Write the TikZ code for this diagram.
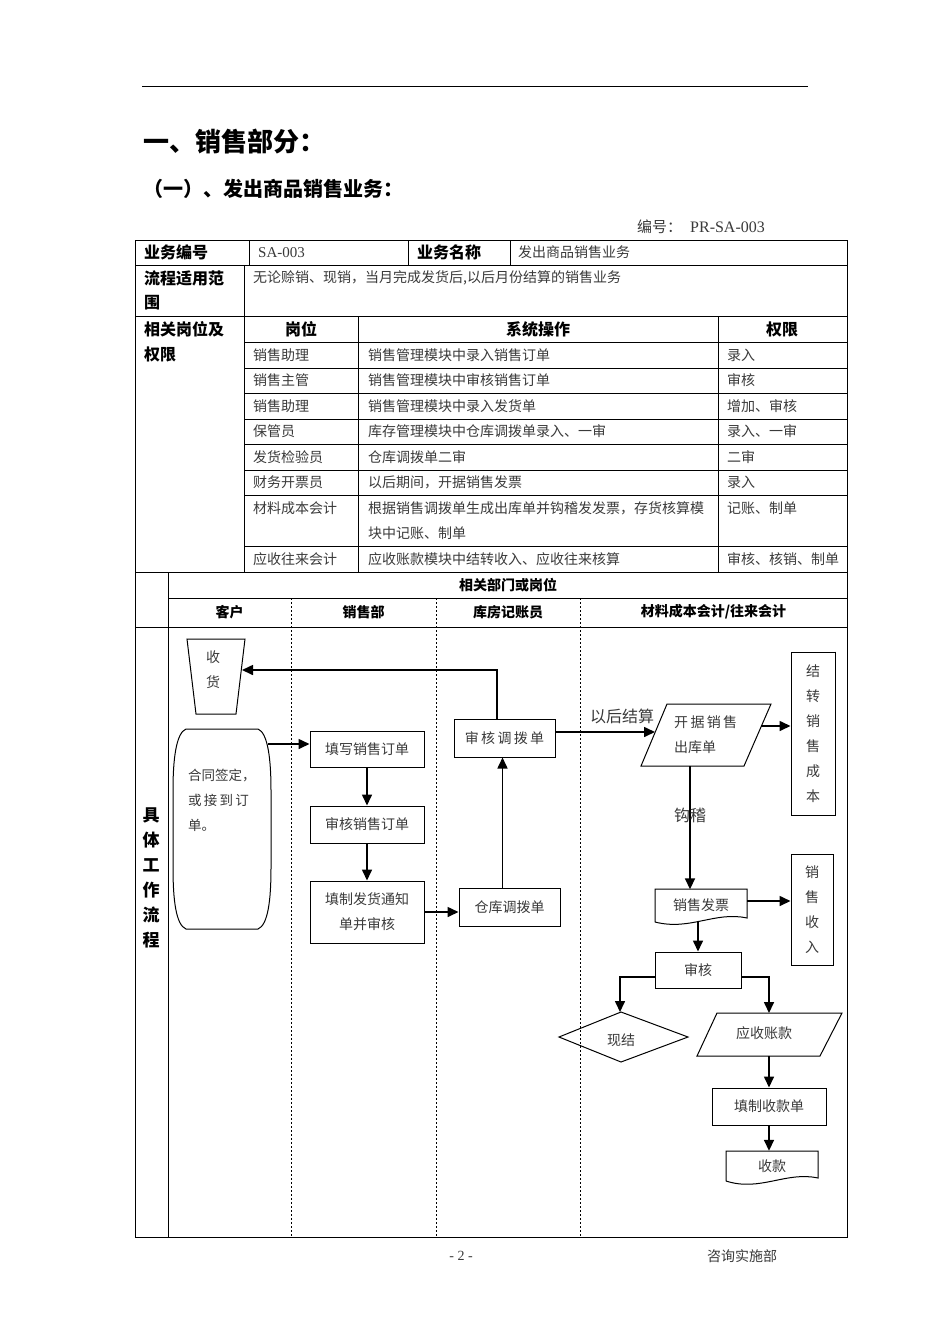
\documentclass[tikz,border=0pt]{standalone}
\usepackage{fontspec}
\setmainfont{Liberation Serif}
\newfontfamily\cjk{Noto Sans CJK SC}
\usetikzlibrary{arrows.meta,shapes.geometric}
\definecolor{txt}{HTML}{3A3A3A}
\begin{document}
\begin{tikzpicture}[x=1pt,y=-1pt,
  tl/.style={line width=1pt},
  cell/.style={anchor=west,inner sep=0pt,text=txt,font=\cjk\fontsize{14}{25}\selectfont,align=left},
  hd/.style={anchor=west,inner sep=0pt,font=\cjk\bfseries\fontsize{16}{25}\selectfont},
  hdc/.style={inner sep=0pt,font=\cjk\bfseries\fontsize{16}{25}\selectfont},
  lh/.style={inner sep=0pt,font=\cjk\bfseries\fontsize{14}{16}\selectfont},
  fbox/.style={draw,line width=1pt,inner sep=0pt,text=txt,font=\cjk\fontsize{14}{25}\selectfont,align=center},
  ftext/.style={inner sep=0pt,text=txt,font=\cjk\fontsize{14}{25}\selectfont,align=center},
  conn/.style={line width=1.6pt,-{Triangle[length=11pt,width=10pt]}},
  lane/.style={line width=0.8pt,dash pattern=on 2pt off 2pt}
]
\useasboundingbox[fill=white] (0,0) rectangle (950,1344);

% header
\draw[line width=0.8pt] (142,86) -- (808,86);
\node[anchor=west,inner sep=0pt,font=\cjk\bfseries\fontsize{26}{30}\selectfont] (title) at (143,142) {一、销售部分：};
\node[anchor=west,inner sep=0pt,font=\cjk\bfseries\fontsize{20}{24}\selectfont] (subtitle) at (143,189) {（一）、发出商品销售业务：};
\node[anchor=west,inner sep=0pt,font=\fontsize{16}{18}\selectfont,text=txt] (code) at (637,227) {{\cjk\fontsize{15}{18}\selectfont 编号：}\ \ PR-SA-003};

% table frame
\draw[tl] (135,240) rectangle (847,1237);
\draw[tl] (135,265) -- (847,265);
\draw[tl] (135,316) -- (847,316);
\foreach \yy in {342,368,393,419,444,470,495,546} \draw[tl] (244,\yy) -- (847,\yy);
\draw[tl] (135,572) -- (847,572);
\draw[tl] (168,598) -- (847,598);
\draw[tl] (135,627) -- (847,627);
\draw[tl] (249,240) -- (249,265);
\draw[tl] (408,240) -- (408,265);
\draw[tl] (510,240) -- (510,265);
\draw[tl] (244,265) -- (244,572);
\draw[tl] (358,316) -- (358,572);
\draw[tl] (718,316) -- (718,572);
\draw[tl] (168,572) -- (168,1237);
\foreach \xx in {291,436,580} \draw[lane] (\xx,598) -- (\xx,1237);

% table text
\node[hd] (ywbh) at (144,252.5) {业务编号};
\node[anchor=west,inner sep=0pt,font=\fontsize{15}{18}\selectfont,text=txt] (sa) at (258,253) {SA-003};
\node[hd] (ywmc) at (417,252.5) {业务名称};
\node[cell] (ywmcv) at (518,252.5) {发出商品销售业务};
\node[hd] (lc1) at (144,278) {流程适用范};
\node[hd] (lc2) at (144,303) {围};
\node[cell] (lcv) at (253,278) {无论赊销、现销，当月完成发货后,以后月份结算的销售业务};
\node[hd] (xg1) at (144,329) {相关岗位及};
\node[hd] (xg2) at (144,354) {权限};
\node[hdc] (gw) at (301,329) {岗位};
\node[hdc] (xtcz) at (538,329) {系统操作};
\node[hdc] (qx) at (782,329) {权限};
\foreach \yy/\a/\b/\c [count=\i] in {
  355/销售助理/销售管理模块中录入销售订单/录入,
  380.5/销售主管/销售管理模块中审核销售订单/审核,
  406/销售助理/销售管理模块中录入发货单/增加、审核,
  431.5/保管员/库存管理模块中仓库调拨单录入、一审/录入、一审,
  457/发货检验员/仓库调拨单二审/二审,
  482.5/财务开票员/以后期间，开据销售发票/录入,
  508/材料成本会计/根据销售调拨单生成出库单并钩稽发发票，存货核算模/记账、制单,
  559/应收往来会计/应收账款模块中结转收入、应收往来核算/审核、核销、制单}{
  \node[cell] (ra\i) at (253,\yy) {\a};
  \node[cell] (rb\i) at (368,\yy) {\b};
  \node[cell] (rc\i) at (727,\yy) {\c};
}
\node[cell] (rb7b) at (368,533) {块中记账、制单};

% lane headers
\node[lh] (xgbm) at (508,585) {相关部门或岗位};
\node[lh] (kh) at (229.5,612) {客户};
\node[lh] (xsb) at (363.5,612) {销售部};
\node[lh] (kf) at (508,612) {库房记账员};
\node[lh] (cl) at (713.5,612) {材料成本会计/往来会计};
\node[hdc,font=\cjk\bfseries\fontsize{17}{25}\selectfont,align=center] (jtgz) at (151,877.5) {具\\体\\工\\作\\流\\程};

% ---- flow ----
% 收货 trapezoid
\draw[line width=1pt] (187,639) -- (245,639) -- (236,714) -- (196,714) -- cycle;
\node[ftext] (sh0) at (213,670) {收\\货};
\coordinate (shR) at (242,670);

% 合同签定 barrel
\draw[line width=1pt] (186,729) -- (258,729)
  .. controls (268,733) and (271,760) .. (271,790) -- (271,868)
  .. controls (271,900) and (268,925) .. (258,929) -- (186,929)
  .. controls (176,925) and (173,900) .. (173,868) -- (173,790)
  .. controls (173,760) and (176,733) .. (186,729) -- cycle;
\node[ftext,align=left,anchor=west,font=\cjk\fontsize{13.5}{25}\selectfont] (ht) at (188,800) {合同签定，\\或\,接\,到\,订\\单。};
\coordinate (htR) at (268,744);

\node[fbox,minimum width=114pt,minimum height=36pt] (txdd) at (367,749) {填写销售订单};
\node[fbox,minimum width=114pt,minimum height=37pt] (shdd) at (367,824.5) {审核销售订单};
\node[fbox,minimum width=114pt,minimum height=62pt] (tzfh) at (367,912) {填制发货通知\\单并审核};
\node[fbox,minimum width=101pt,minimum height=38pt] (ckdb) at (509.5,907) {仓库调拨单};
\node[fbox,minimum width=101pt,minimum height=38pt] (shdb) at (504.5,738) {审\,核\,调\,拨\,单};

\draw[conn] (htR) -- (htR -| txdd.west);
\draw[conn] (txdd.south) -- (shdd.north);
\draw[conn] (shdd.south) -- (tzfh.north);
\draw[conn] (tzfh.east) -- (tzfh.east -| ckdb.west);
\draw[conn] ([xshift=-7pt]ckdb.north) -- ([xshift=-2pt]shdb.south);
\draw[conn] ([xshift=-7.5pt]shdb.north) |- (shR);

% 开据销售出库单 parallelogram
\draw[line width=1pt] (667,704) -- (771,704) -- (744,766) -- (641,766) -- cycle;
\node[ftext,align=left,anchor=west] (kpt) at (674,735) {开\,据\,销\,售\\出库单};
\coordinate (kpL) at (655,732);
\coordinate (kpR) at (761,726);
\coordinate (kpB) at (690,766);
\draw[conn] ([yshift=6pt]shdb.east) -- (kpL);
\node[inner sep=0pt,text=txt,font=\cjk\fontsize{16}{18}\selectfont] (yhjs) at (622,716) {以后结算};

\node[fbox,minimum width=44pt,minimum height=163pt] (jzcb) at (813,733.5) {结\\转\\销\\售\\成\\本};
\draw[line width=1.8pt] (jzcb.north east) -- (jzcb.south east) -- (jzcb.south west);
\draw[conn] (kpR) -- (kpR -| jzcb.west);

% 销售发票 document
\node[ftext,minimum width=92pt,minimum height=31pt] (fp) at (701,905) {销售发票};
\draw[line width=1pt] (655,922) -- (655,889) -- (747,889) -- (747,918) .. controls (715,911) and (690,931) .. (655,922);
\draw[conn] (kpB) -- (kpB |- fp.north);
\node[inner sep=0pt,text=txt,font=\cjk\fontsize{16}{18}\selectfont] (gj) at (690,815) {钩稽};

\node[fbox,minimum width=42pt,minimum height=111pt] (sxsr) at (812,909.5) {销\\售\\收\\入};
\draw[conn] ([yshift=4pt]fp.east) -- ([yshift=4pt]fp.east -| sxsr.west);

\node[fbox,minimum width=86pt,minimum height=36pt] (shk) at (698,970) {审核};
\draw[conn] (fp.south -| shk.north) -- (shk.north);

% 现结 diamond
\draw[line width=1pt] (621,1012) -- (688,1037) -- (621,1062) -- (559,1037) -- cycle;
\node[ftext] (xj) at (621,1040) {现结};
\coordinate (xjT) at (620,1012);
\draw[conn] ([yshift=-7pt]shk.west) -| (xjT);

% 应收账款 parallelogram
\draw[line width=1pt] (717,1013) -- (842,1013) -- (820,1056) -- (697,1056) -- cycle;
\node[ftext] (ysk) at (764,1033) {应收账款};
\coordinate (ysT) at (769,1013);
\coordinate (ysB) at (769,1056);
\draw[conn] ([yshift=-7pt]shk.east) -| (ysT);

\node[fbox,minimum width=114pt,minimum height=37pt] (tzsk) at (769,1106.5) {填制收款单};
\draw[conn] (ysB) -- (tzsk.north);

% 收款 document
\node[ftext,minimum width=92pt,minimum height=30pt] (sk) at (772,1166) {收款};
\draw[line width=1pt] (726,1181) -- (726,1151) -- (818,1151) -- (818,1178) .. controls (786,1171) and (760,1192) .. (726,1181);
\draw[conn] (tzsk.south) -- (tzsk.south |- sk.north);

% footer
\node[inner sep=0pt,font=\fontsize{14}{16}\selectfont,text=txt] (pg) at (461,1256) {- 2 -};
\node[inner sep=0pt,font=\cjk\fontsize{14}{16}\selectfont,text=txt] (dept) at (742,1256) {咨询实施部};
\end{tikzpicture}
\end{document}
